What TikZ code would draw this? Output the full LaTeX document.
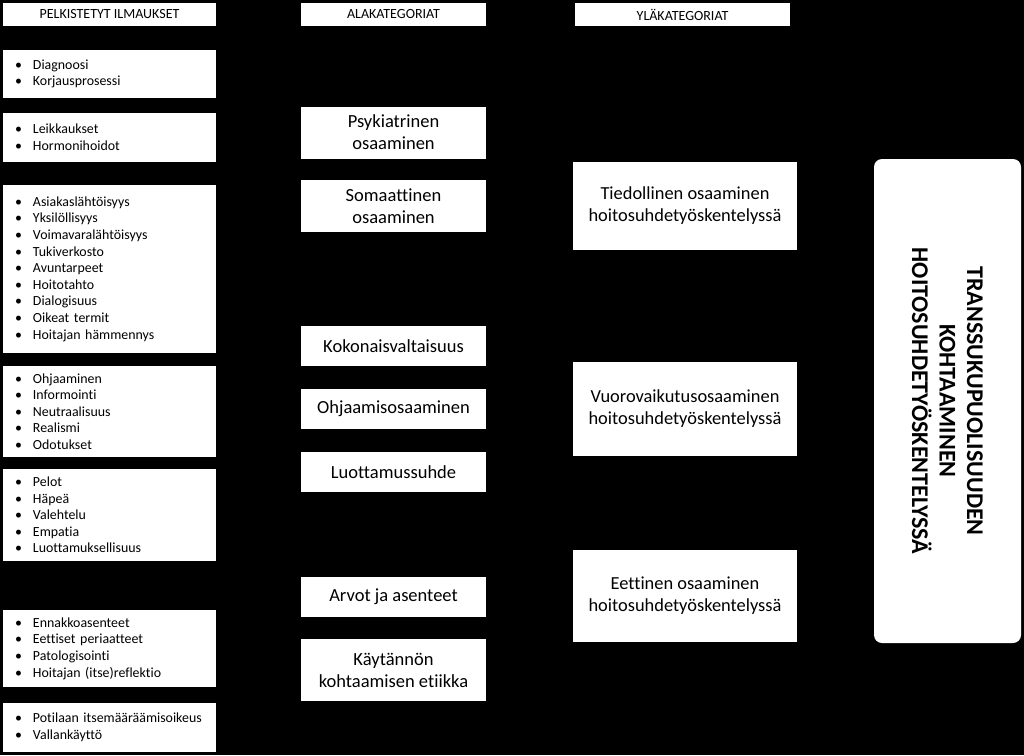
\documentclass[tikz,border=0pt]{standalone}
\usepackage{fontspec}
\setmainfont{Carlito}[Ligatures=CommonOff]
\begin{document}
\begin{tikzpicture}[x=1pt,y=-1pt,
  box/.style={fill=white,draw=none,inner sep=0pt,align=center,text=black},
  hdr/.style={box,font=\fontsize{14}{16}\selectfont},
  mid/.style={box,font=\fontsize{18.5}{22}\selectfont},
  up/.style={box,font=\fontsize{18.4}{22}\selectfont},
  lst/.style={box,align=left,font=\fontsize{13.9}{16.6}\selectfont,text width=189pt,inner xsep=12pt},
  big/.style={fill=white,draw=none,rounded corners=8pt}]
\useasboundingbox[fill=black] (0,0) rectangle (1024,755);
% headers
\node[hdr,minimum width=213pt,minimum height=23pt] (h1) at (109.5,14.5) {PELKISTETYT ILMAUKSET};
\node[hdr,minimum width=185pt,minimum height=23pt] (h2) at (393.5,14.5) {ALAKATEGORIAT};
\node[hdr,minimum width=215pt,minimum height=23pt] (h3) at (682.5,14.5) {YLÄKATEGORIAT};
% left list boxes
\newcommand{\bl}{\makebox[18pt][l]{\textbullet}}
\node[lst,minimum height=48pt] (l1) at (109.5,74) {\bl Diagnoosi\\\bl Korjausprosessi};
\node[lst,minimum height=49pt] (l2) at (109.5,137.5) {\bl Leikkaukset\\\bl Hormonihoidot};
\node[lst,minimum height=168pt] (l3) at (109.5,269) {\bl Asiakaslähtöisyys\\\bl Yksilöllisyys\\\bl Voimavaralähtöisyys\\\bl Tukiverkosto\\\bl Avuntarpeet\\\bl Hoitotahto\\\bl Dialogisuus\\\bl Oikeat termit\\\bl Hoitajan hämmennys};
\node[lst,minimum height=91pt] (l4) at (109.5,411.5) {\bl Ohjaaminen\\\bl Informointi\\\bl Neutraalisuus\\\bl Realismi\\\bl Odotukset};
\node[lst,minimum height=92pt] (l5) at (109.5,515) {\bl Pelot\\\bl Häpeä\\\bl Valehtelu\\\bl Empatia\\\bl Luottamuksellisuus};
\node[lst,minimum height=77pt] (l6) at (109.5,648.5) {\bl Ennakkoasenteet\\\bl Eettiset periaatteet\\\bl Patologisointi\\\bl Hoitajan (itse)reflektio};
\node[lst,minimum height=49pt] (l7) at (109.5,727.5) {\bl Potilaan itsemääräämisoikeus\\\bl Vallankäyttö};
% middle boxes
\node[mid,minimum width=185pt,minimum height=52pt] (m1) at (393.5,132.5) {Psykiatrinen\\osaaminen};
\node[mid,minimum width=185pt,minimum height=52pt] (m2) at (393.5,206) {Somaattinen\\osaaminen};
\node[mid,minimum width=185pt,minimum height=40pt] (m3) at (393.5,346) {Kokonaisvaltaisuus};
\node[mid,minimum width=185pt,minimum height=40pt] (m4) at (393.5,409) {Ohjaamisosaaminen};
\node[mid,minimum width=185pt,minimum height=40pt] (m5) at (393.5,472) {Luottamussuhde};
\node[mid,minimum width=185pt,minimum height=40pt] (m6) at (393.5,597) {Arvot ja asenteet};
\node[mid,minimum width=185pt,minimum height=62pt] (m7) at (393.5,670) {Käytännön\\kohtaamisen etiikka};
% upper categories
\node[up,minimum width=224pt,minimum height=88pt] (u1) at (685,206) {Tiedollinen osaaminen\\hoitosuhdetyöskentelyssä};
\node[up,minimum width=224pt,minimum height=94pt] (u2) at (685,409) {Vuorovaikutusosaaminen\\hoitosuhdetyöskentelyssä};
\node[up,minimum width=224pt,minimum height=92pt] (u3) at (685,596) {Eettinen osaaminen\\hoitosuhdetyöskentelyssä};
% main box
\node[big,minimum width=147pt,minimum height=484pt] (main) at (947.5,401) {};
\node[rotate=-90,align=center,font=\fontsize{24}{27.5}\selectfont\bfseries,text=black] (mt) at (main.center) {TRANSSUKUPUOLISUUDEN\\KOHTAAMINEN\\HOITOSUHDETYÖSKENTELYSSÄ};
\end{tikzpicture}
\end{document}
